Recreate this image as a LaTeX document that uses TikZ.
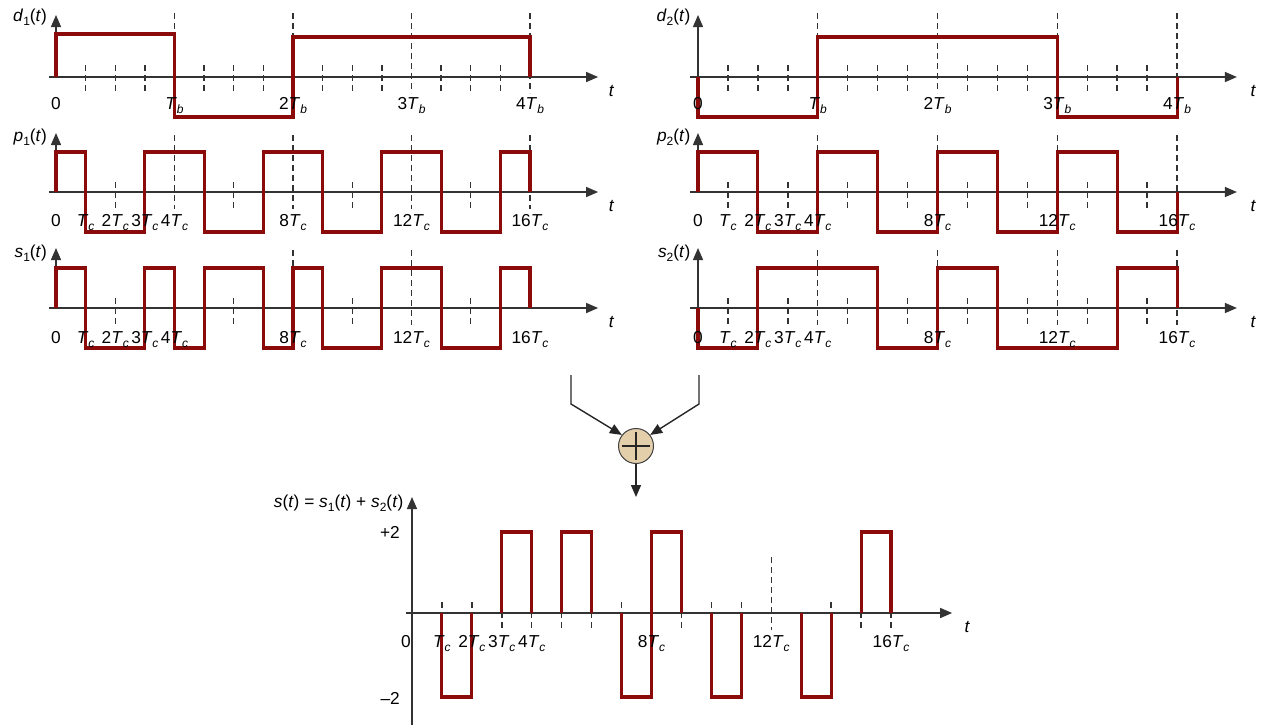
\documentclass[tikz,border=0pt]{standalone}
\usepackage{fontspec}
\setmainfont{Liberation Sans}
\usetikzlibrary{arrows.meta}
\definecolor{sigred}{HTML}{8B0A0A}
\definecolor{adderfill}{HTML}{E3CFAA}
\newcommand{\sbs}[1]{\raisebox{-4pt}{\fontsize{12}{13}\selectfont #1}}
\newcommand{\Tc}{\textit{T}\sbs{\textit{c}}}
\newcommand{\Tb}{\textit{T}\sbs{\textit{b}}}
\tikzset{
  sigline/.style={draw=sigred, line width=3.1pt, line join=miter},
  axisline/.style={draw=black!80, line width=1.4pt},
  axarrow/.style={axisline, -{Triangle[length=12pt,width=10pt]}},
  tickline/.style={draw=black!80, line width=1.4pt, dash pattern=on 6pt off 4pt},
  lbl/.style={font=\fontsize{17.3}{20}\selectfont, inner sep=0pt},
  conn/.style={draw=black!85, line width=1.4pt, -{Triangle[length=12pt,width=10pt]}},
}
\begin{document}
\begin{tikzpicture}[x=1pt,y=-1pt]
\useasboundingbox (0,0) rectangle (1264,724);
\def\H{-40}\def\L{40}

% ================= LEFT PANEL =================
% d1
\begin{scope}[shift={(56,77)}, x=29.625pt]
  \foreach \n in {1,2,3,5,6,7,9,10,11,13,14,15} \draw[tickline] (\n,-12) -- (\n,16);
  \foreach \n in {4,8,12,16} \draw[tickline] (\n,-64) -- (\n,16);
  \draw[axarrow] (-0.24,0) -- (18.3,0);
  \draw[axarrow] (0,0) -- (0,-62);
  \draw[sigline] (0,0) -- (0,-43) -- (4,-43) -- (4,\L) -- (8,\L) -- (8,\H) -- (16,\H) -- (16,0);
  \node[lbl, anchor=base east] (d1lab) at (-0.3,-56) {\textit{d}\sbs{1}(\textit{t})};
  \node[lbl] (d1t) at (18.75,14) {\textit{t}};
  \node[lbl, anchor=base] (d1l0) at (0,32) {0};
  \node[lbl, anchor=base] (d1l1) at (4,32) {\Tb};
  \node[lbl, anchor=base] (d1l2) at (8,32) {2\Tb};
  \node[lbl, anchor=base] (d1l3) at (12,32) {3\Tb};
  \node[lbl, anchor=base] (d1l4) at (16,32) {4\Tb};
\end{scope}
% p1
\begin{scope}[shift={(56,192)}, x=29.625pt]
  \foreach \n in {1,2,3,5,6,7,9,10,11,13,14,15} \draw[tickline] (\n,-10) -- (\n,17);
  \foreach \n in {4,8,12,16} \draw[tickline] (\n,-57) -- (\n,17);
  \draw[axarrow] (-0.24,0) -- (18.3,0);
  \draw[axarrow] (0,0) -- (0,-59);
  \draw[sigline] (0,0) -- (0,\H) -- (1,\H) -- (1,\L) -- (3,\L) -- (3,\H) -- (5,\H) -- (5,\L) -- (7,\L) -- (7,\H) -- (9,\H) -- (9,\L) -- (11,\L) -- (11,\H) -- (13,\H) -- (13,\L) -- (15,\L) -- (15,\H) -- (16,\H) -- (16,0);
  \node[lbl, anchor=base east] (p1lab) at (-0.3,-51) {\textit{p}\sbs{1}(\textit{t})};
  \node[lbl] (p1t) at (18.75,14) {\textit{t}};
  \node[lbl, anchor=base] (p1l0) at (0,34) {0};
  \node[lbl, anchor=base] (p1l1) at (1,34) {\Tc};
  \node[lbl, anchor=base] (p1l2) at (2,34) {2\Tc};
  \node[lbl, anchor=base] (p1l3) at (3,34) {3\Tc};
  \node[lbl, anchor=base] (p1l4) at (4,34) {4\Tc};
  \node[lbl, anchor=base] (p1l8) at (8,34) {8\Tc};
  \node[lbl, anchor=base] (p1l12) at (12,34) {12\Tc};
  \node[lbl, anchor=base] (p1l16) at (16,34) {16\Tc};
\end{scope}
% s1
\begin{scope}[shift={(56,308)}, x=29.625pt]
  \foreach \n in {1,2,3,5,6,7,9,10,11,13,14,15} \draw[tickline] (\n,-10) -- (\n,17);
  \foreach \n in {8,12} \draw[tickline] (\n,-58) -- (\n,17);
  \draw[axarrow] (-0.24,0) -- (18.3,0);
  \draw[axarrow] (0,0) -- (0,-60);
  \draw[sigline] (0,0) -- (0,\H) -- (1,\H) -- (1,\L) -- (3,\L) -- (3,\H) -- (4,\H) -- (4,\L) -- (5,\L) -- (5,\H) -- (7,\H) -- (7,\L) -- (8,\L) -- (8,\H) -- (9,\H) -- (9,\L) -- (11,\L) -- (11,\H) -- (13,\H) -- (13,\L) -- (15,\L) -- (15,\H) -- (16,\H) -- (16,0);
  \node[lbl, anchor=base east] (s1lab) at (-0.3,-51) {\textit{s}\sbs{1}(\textit{t})};
  \node[lbl] (s1t) at (18.75,14) {\textit{t}};
  \node[lbl, anchor=base] (s1l0) at (0,35) {0};
  \node[lbl, anchor=base] (s1l1) at (1,35) {\Tc};
  \node[lbl, anchor=base] (s1l2) at (2,35) {2\Tc};
  \node[lbl, anchor=base] (s1l3) at (3,35) {3\Tc};
  \node[lbl, anchor=base] (s1l4) at (4,35) {4\Tc};
  \node[lbl, anchor=base] (s1l8) at (8,35) {8\Tc};
  \node[lbl, anchor=base] (s1l12) at (12,35) {12\Tc};
  \node[lbl, anchor=base] (s1l16) at (16,35) {16\Tc};
\end{scope}

% ================= RIGHT PANEL =================
% d2
\begin{scope}[shift={(698,77)}, x=29.94pt]
  \foreach \n in {1,2,3,5,6,7,9,10,11,13,14,15} \draw[tickline] (\n,-12) -- (\n,16);
  \foreach \n in {4,8,12,16} \draw[tickline] (\n,-64) -- (\n,16);
  \draw[axarrow] (-0.27,0) -- (18.0,0);
  \draw[axarrow] (0,0) -- (0,-62);
  \draw[sigline] (0,0) -- (0,\L) -- (4,\L) -- (4,\H) -- (12,\H) -- (12,\L) -- (16,\L) -- (16,0);
  \node[lbl, anchor=base east] (d2lab) at (-0.25,-56) {\textit{d}\sbs{2}(\textit{t})};
  \node[lbl] (d2t) at (18.55,14) {\textit{t}};
  \node[lbl, anchor=base] (d2l0) at (0,32) {0};
  \node[lbl, anchor=base] (d2l1) at (4,32) {\Tb};
  \node[lbl, anchor=base] (d2l2) at (8,32) {2\Tb};
  \node[lbl, anchor=base] (d2l3) at (12,32) {3\Tb};
  \node[lbl, anchor=base] (d2l4) at (16,32) {4\Tb};
\end{scope}
% p2
\begin{scope}[shift={(698,192)}, x=29.94pt]
  \foreach \n in {1,2,3,5,6,7,9,10,11,13,14,15} \draw[tickline] (\n,-10) -- (\n,17);
  \foreach \n in {4,8,12,16} \draw[tickline] (\n,-57) -- (\n,17);
  \draw[axarrow] (-0.27,0) -- (18.0,0);
  \draw[axarrow] (0,0) -- (0,-59);
  \draw[sigline] (0,0) -- (0,\H) -- (2,\H) -- (2,\L) -- (4,\L) -- (4,\H) -- (6,\H) -- (6,\L) -- (8,\L) -- (8,\H) -- (10,\H) -- (10,\L) -- (12,\L) -- (12,\H) -- (14,\H) -- (14,\L) -- (16,\L) -- (16,0);
  \node[lbl, anchor=base east] (p2lab) at (-0.25,-51) {\textit{p}\sbs{2}(\textit{t})};
  \node[lbl] (p2t) at (18.55,14) {\textit{t}};
  \node[lbl, anchor=base] (p2l0) at (0,34) {0};
  \node[lbl, anchor=base] (p2l1) at (1,34) {\Tc};
  \node[lbl, anchor=base] (p2l2) at (2,34) {2\Tc};
  \node[lbl, anchor=base] (p2l3) at (3,34) {3\Tc};
  \node[lbl, anchor=base] (p2l4) at (4,34) {4\Tc};
  \node[lbl, anchor=base] (p2l8) at (8,34) {8\Tc};
  \node[lbl, anchor=base] (p2l12) at (12,34) {12\Tc};
  \node[lbl, anchor=base] (p2l16) at (16,34) {16\Tc};
\end{scope}
% s2
\begin{scope}[shift={(698,308)}, x=29.94pt]
  \foreach \n in {1,2,3,5,6,7,9,10,11,13,14,15} \draw[tickline] (\n,-10) -- (\n,17);
  \foreach \n in {4,8,12,16} \draw[tickline] (\n,-58) -- (\n,17);
  \draw[axarrow] (-0.27,0) -- (18.0,0);
  \draw[axarrow] (0,0) -- (0,-60);
  \draw[sigline] (0,0) -- (0,\L) -- (2,\L) -- (2,\H) -- (6,\H) -- (6,\L) -- (8,\L) -- (8,\H) -- (10,\H) -- (10,\L) -- (14,\L) -- (14,\H) -- (16,\H) -- (16,0);
  \node[lbl, anchor=base east] (s2lab) at (-0.25,-51) {\textit{s}\sbs{2}(\textit{t})};
  \node[lbl] (s2t) at (18.55,14) {\textit{t}};
  \node[lbl, anchor=base] (s2l0) at (0,35) {0};
  \node[lbl, anchor=base] (s2l1) at (1,35) {\Tc};
  \node[lbl, anchor=base] (s2l2) at (2,35) {2\Tc};
  \node[lbl, anchor=base] (s2l3) at (3,35) {3\Tc};
  \node[lbl, anchor=base] (s2l4) at (4,35) {4\Tc};
  \node[lbl, anchor=base] (s2l8) at (8,35) {8\Tc};
  \node[lbl, anchor=base] (s2l12) at (12,35) {12\Tc};
  \node[lbl, anchor=base] (s2l16) at (16,35) {16\Tc};
\end{scope}

% ================= ADDER =================
\node[circle, draw=black!75, line width=1pt, fill=adderfill, minimum size=35pt, inner sep=0pt,
      path picture={\draw[black!85, line width=1.4pt]
        ([xshift=-14pt]path picture bounding box.center) -- ([xshift=14pt]path picture bounding box.center)
        ([yshift=-14pt]path picture bounding box.center) -- ([yshift=14pt]path picture bounding box.center);}]
      (add) at (636,446) {};
\coordinate (inL) at (571,375);
\coordinate (bendL) at (571,404);
\coordinate (inR) at (699,375);
\coordinate (bendR) at (699,404);
\coordinate (outE) at (636,497);
\draw[conn] (inL) -- (bendL) -- (add.142);
\draw[conn] (inR) -- (bendR) -- (add.38);
\draw[conn] (add) -- (outE);

% ================= SUM =================
\begin{scope}[shift={(412,613)}, x=29.94pt]
  \foreach \n in {1,2,3,4,5,6,7,9,10,11,14,15,16} \draw[tickline] (\n,-11) -- (\n,15);
  \draw[tickline] (12,-56) -- (12,17);
  \draw[axarrow] (-0.2,0) -- (18.04,0);
  \draw[axarrow] (0,112) -- (0,-116);
  \draw[sigline] (1,0) -- (1,84) -- (2,84) -- (2,0);
  \draw[sigline] (3,0) -- (3,-81) -- (4,-81) -- (4,0);
  \draw[sigline] (5,0) -- (5,-81) -- (6,-81) -- (6,0);
  \draw[sigline] (7,0) -- (7,84) -- (8,84) -- (8,-81) -- (9,-81) -- (9,0);
  \draw[sigline] (10,0) -- (10,84) -- (11,84) -- (11,0);
  \draw[sigline] (13,0) -- (13,84) -- (14,84) -- (14,0);
  \draw[sigline] (15,0) -- (15,-81) -- (16,-81) -- (16,0);
  \node[lbl, anchor=base east] (slab) at (-0.28,-106) {\textit{s}(\textit{t}) = \textit{s}\sbs{1}(\textit{t}) + \textit{s}\sbs{2}(\textit{t})};
  \node[lbl, anchor=base east] (plus2) at (-0.4,-75) {+2};
  \node[lbl, anchor=base east] (minus2) at (-0.4,91) {–2};
  \node[lbl] (st) at (18.55,14) {\textit{t}};
  \node[lbl, anchor=base] (sl0) at (-0.2,34) {0};
  \node[lbl, anchor=base] (sl1) at (1,34) {\Tc};
  \node[lbl, anchor=base] (sl2) at (2,34) {2\Tc};
  \node[lbl, anchor=base] (sl3) at (3,34) {3\Tc};
  \node[lbl, anchor=base] (sl4) at (4,34) {4\Tc};
  \node[lbl, anchor=base] (sl8) at (8,34) {8\Tc};
  \node[lbl, anchor=base] (sl12) at (12,34) {12\Tc};
  \node[lbl, anchor=base] (sl16) at (16,34) {16\Tc};
\end{scope}
\end{tikzpicture}
\end{document}
